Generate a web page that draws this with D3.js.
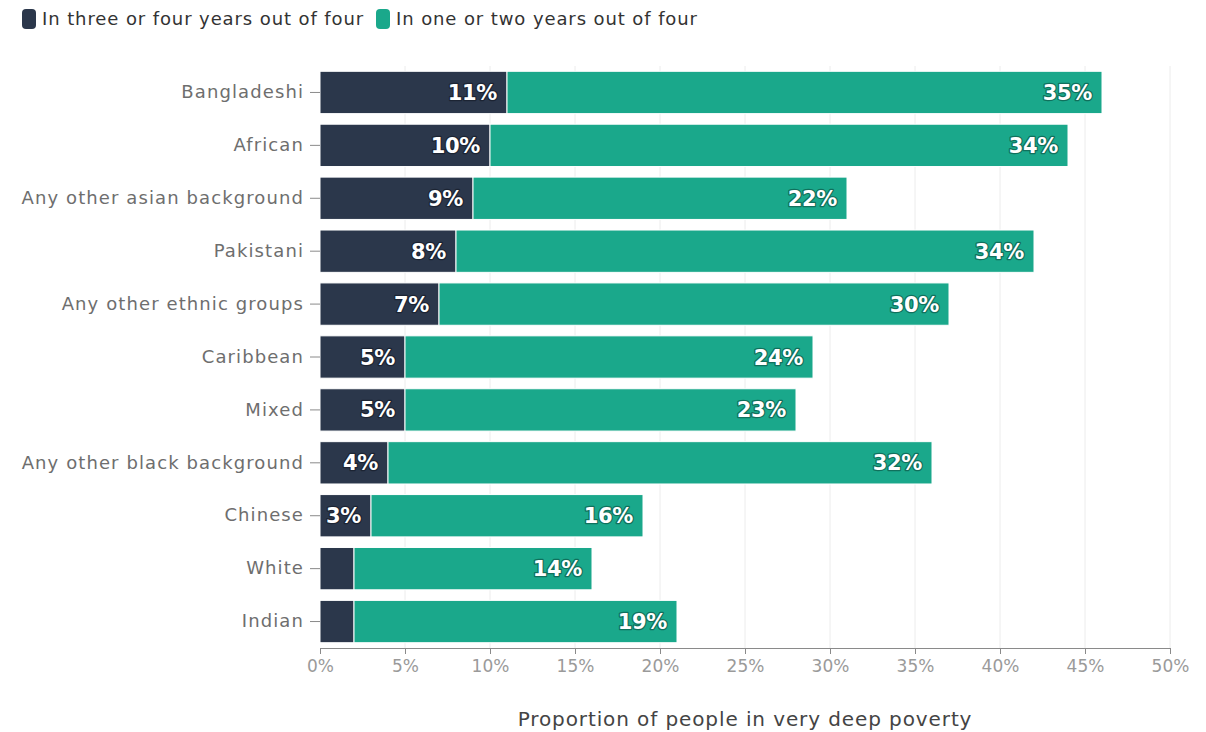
<!DOCTYPE html>
<html>
<head>
<meta charset="utf-8">
<script src="https://cdn.jsdelivr.net/npm/d3@7"></script>
<style>
  html, body { margin: 0; padding: 0; background: #ffffff; }
  svg { display: block; }
</style>
</head>
<body>
<svg id="chart" width="1206" height="732"></svg>
<script>
// Ethnic groups, top to bottom
const categories = [
  "Bangladeshi", "African", "Any other asian background", "Pakistani",
  "Any other ethnic groups", "Caribbean", "Mixed", "Any other black background",
  "Chinese", "White", "Indian"
];
const seriesNames = ["In three or four years out of four", "In one or two years out of four"];
// Share of people in very deep poverty (%)
const persistent = [11, 10, 9, 8, 7, 5, 5, 4, 3, 2, 2];
const occasional = [35, 34, 22, 34, 30, 24, 23, 32, 16, 14, 19];
const xTicks = [0, 5, 10, 15, 20, 25, 30, 35, 40, 45, 50];

const colors = ["#2b374b", "#1aa88b"];
const font = "'DejaVu Sans', Verdana, sans-serif";

const svg = d3.select("#chart");
const x = d3.scaleLinear().domain([0, 50]).range([320, 1170]);
const y = d3.scaleBand().domain(categories).range([66, 648])
  .paddingInner(0.2).paddingOuter(0.1);

// vertical gridlines
svg.append("g").selectAll("line").data(xTicks.slice(1)).join("line")
  .attr("x1", d => x(d)).attr("x2", d => x(d))
  .attr("y1", 66).attr("y2", 648)
  .attr("stroke", "#ececec").attr("stroke-width", 1);

// stacked segments
const rows = categories.map((c, i) => ({ cat: c, segs: [
  { s: 0, x0: 0, x1: persistent[i], v: persistent[i] },
  { s: 1, x0: persistent[i], x1: persistent[i] + occasional[i], v: occasional[i] }
]}));

const bars = svg.append("g");
rows.forEach(r => {
  bars.selectAll(null).data(r.segs).join("rect")
    .attr("x", d => x(d.x0))
    .attr("y", y(r.cat))
    .attr("width", d => x(d.x1) - x(d.x0))
    .attr("height", y.bandwidth())
    .attr("fill", d => colors[d.s])
    .attr("stroke", "#ffffff").attr("stroke-width", 1);
});

// value labels inside bar ends (hidden on very short segments)
const labels = svg.append("g");
rows.forEach(r => {
  labels.selectAll(null).data(r.segs.filter(d => d.v >= 3)).join("text")
    .attr("x", d => x(d.x1) - 10)
    .attr("y", y(r.cat) + y.bandwidth() / 2)
    .attr("dy", "0.36em")
    .attr("text-anchor", "end")
    .attr("font-family", font)
    .attr("font-weight", 700)
    .attr("font-size", 21)
    .attr("letter-spacing", -0.3)
    .attr("fill", "#ffffff")
    .attr("stroke", d => d.s === 0 ? "#1c2433" : "#10705c")
    .attr("stroke-width", 2.5)
    .attr("paint-order", "stroke")
    .attr("stroke-linejoin", "round")
    .text(d => d.v + "%");
});

// y axis
const yAxis = svg.append("g").attr("transform", "translate(320,0)")
  .call(d3.axisLeft(y).tickSize(10).tickPadding(6));
yAxis.select(".domain").remove();
yAxis.selectAll(".tick line").attr("stroke", "#8a8a8a");
yAxis.selectAll(".tick text")
  .attr("font-family", font).attr("font-size", 18).attr("letter-spacing", 1.1)
  .attr("fill", "#6e6e6e");

// x axis
const xAxis = svg.append("g").attr("transform", "translate(0,648)")
  .call(d3.axisBottom(x).tickValues(xTicks).tickFormat(d => d + "%")
    .tickSize(6).tickSizeOuter(0).tickPadding(6));
xAxis.select(".domain").attr("stroke", "#8a8a8a");
xAxis.selectAll(".tick line").attr("stroke", "#8a8a8a");
xAxis.selectAll(".tick text")
  .attr("font-family", font).attr("font-size", 17).attr("fill", "#9a9a9a");

// axis title
svg.append("text")
  .attr("x", 745).attr("y", 726)
  .attr("text-anchor", "middle")
  .attr("font-family", font).attr("font-size", 20).attr("letter-spacing", 0.9)
  .attr("fill", "#444444")
  .text("Proportion of people in very deep poverty");

// legend
const legend = svg.append("g");
const legendX = [22, 376];
seriesNames.forEach((name, i) => {
  const g = legend.append("g").attr("transform", `translate(${legendX[i]},9)`);
  g.append("rect").attr("width", 14).attr("height", 20).attr("rx", 4)
    .attr("fill", colors[i]);
  g.append("text").attr("x", 20).attr("y", 10).attr("dy", "0.35em")
    .attr("font-family", font).attr("font-size", 18).attr("letter-spacing", 0.9)
    .attr("fill", "#333333")
    .text(name);
});
</script>
</body>
</html>
